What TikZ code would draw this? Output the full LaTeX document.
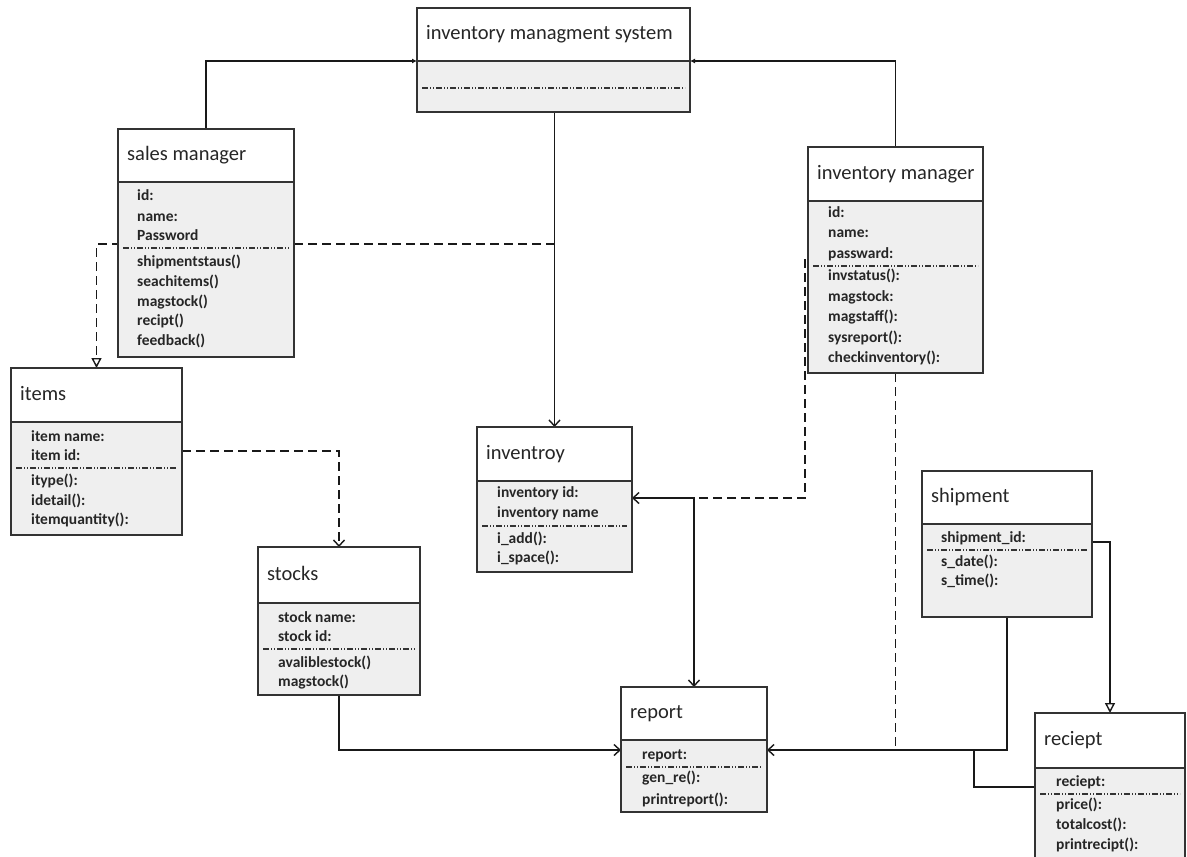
\documentclass[tikz,border=0pt]{standalone}
\usepackage{fontspec}
\setmainfont{Carlito}
\usetikzlibrary{arrows.meta}
\pgfdeclarelayer{background}
\pgfsetlayers{background,main}
\definecolor{boxline}{HTML}{333333}
\definecolor{boxbody}{HTML}{EFEFEF}
\tikzset{
  hdr/.style={draw=boxline, fill=white, line width=2pt, anchor=north west, inner sep=0pt, outer sep=0pt},
  bdy/.style={hdr, fill=boxbody},
  ttl/.style={anchor=west, inner sep=0pt, font=\fontsize{20.5}{24}\selectfont, text=black!85, text height=14pt, text depth=4pt},
  row/.style={anchor=west, inner sep=0pt, font=\fontsize{15.5}{18}\selectfont\bfseries, text=black!85, text height=10pt, text depth=3pt},
  sepline/.style={draw=boxline, line width=1.2pt, dash pattern=on 6pt off 2pt on 1pt off 2pt on 1pt off 2pt},
  conn/.style={draw=black!90, line width=1.8pt},
  dep/.style={conn, dash pattern=on 9pt off 5pt},
  opentip/.tip={Straight Barb[length=6pt,width=11pt,line width=1.4pt]},
  gentip/.tip={Triangle[open,length=10pt,width=10pt,line width=1.4pt,fill=white]},
  blobtip/.tip={Latex[length=5pt,width=5pt]},
}
% class box: name, left, top, right, divider, bottom, title
\newcommand\umlbox[7]{%
  \node[hdr, minimum width={#4pt-#2pt}, minimum height={#5pt-#3pt}] (#1) at (#2,#3) {};
  \node[ttl] (#1-t) at ({#2+9},{(#3+#5)/2}) {#7};
  \node[bdy, minimum width={#4pt-#2pt}, minimum height={#6pt-#5pt}] (#1-b) at (#2,#5) {};
}
% one attribute/operation line: name, x, y, text
\newcommand\mrow[4]{\node[row] (#1) at (#2,#3) {#4};}
% dotted compartment separator: left, right, y
\newcommand\msep[3]{\draw[sepline] ({#1+5},#3) -- ({#2-5},#3);}

\begin{document}
\begin{tikzpicture}[x=1pt,y=-1pt]
\useasboundingbox (0,0) rectangle (1187,857);

% inventory managment system
\umlbox{sys}{417}{8}{690}{61}{112}{inventory managment system}
\msep{417}{690}{88}

% sales manager
\umlbox{sm}{118}{129}{294}{182}{357}{sales manager}
\mrow{sm-1}{137}{197}{id:}
\mrow{sm-2}{137}{218}{name:}
\mrow{sm-3}{137}{237}{Password}
\msep{118}{294}{248}
\mrow{sm-4}{137}{263}{shipmentstaus()}
\mrow{sm-5}{137}{283}{seachitems()}
\mrow{sm-6}{137}{303}{magstock()}
\mrow{sm-7}{137}{322}{recipt()}
\mrow{sm-8}{137}{342}{feedback()}

% inventory manager
\umlbox{im}{808}{147}{983}{201}{373}{inventory manager}
\mrow{im-1}{828}{214}{id:}
\mrow{im-2}{828}{234}{name:}
\mrow{im-3}{828}{255}{passward:}
\msep{808}{983}{266}
\mrow{im-4}{828}{277}{invstatus():}
\mrow{im-5}{828}{298}{magstock:}
\mrow{im-6}{828}{318}{magstaff():}
\mrow{im-7}{828}{339}{sysreport():}
\mrow{im-8}{828}{359}{checkinventory():}

% items
\umlbox{it}{11}{368}{182}{422}{535}{items}
\mrow{it-1}{31}{438}{item name:}
\mrow{it-2}{31}{457}{item id:}
\msep{11}{182}{468}
\mrow{it-3}{31}{482}{itype():}
\mrow{it-4}{31}{502}{idetail():}
\mrow{it-5}{31}{521}{itemquantity():}

% stocks
\umlbox{st}{258}{547}{420}{603}{695}{stocks}
\mrow{st-1}{278}{619}{stock name:}
\mrow{st-2}{278}{638}{stock id:}
\msep{258}{420}{649}
\mrow{st-3}{278}{664}{avaliblestock()}
\mrow{st-4}{278}{683}{magstock()}

% inventroy
\umlbox{inv}{477}{427}{632}{481}{572}{inventroy}
\mrow{inv-1}{497}{494}{inventory id:}
\mrow{inv-2}{497}{514}{inventory name}
\msep{477}{632}{526}
\mrow{inv-3}{497}{540}{i\_add():}
\mrow{inv-4}{497}{559}{i\_space():}

% shipment
\umlbox{sh}{922}{471}{1092}{524}{617}{shipment}
\mrow{sh-1}{941}{539}{shipment\_id:}
\msep{922}{1092}{550}
\mrow{sh-2}{941}{563}{s\_date():}
\mrow{sh-3}{941}{582}{s\_time():}

% report
\umlbox{rp}{621}{687}{767}{740}{812}{report}
\mrow{rp-1}{642}{756}{report:}
\msep{621}{767}{767}
\mrow{rp-2}{642}{779}{gen\_re():}
\mrow{rp-3}{642}{801}{printreport():}

% reciept
\umlbox{rc}{1035}{713}{1185}{768}{862}{reciept}
\mrow{rc-1}{1056}{783}{reciept:}
\msep{1035}{1185}{794}
\mrow{rc-2}{1056}{806}{price():}
\mrow{rc-3}{1056}{826}{totalcost():}
\mrow{rc-4}{1056}{846}{printrecipt():}

% connectors, kept behind the boxes
\begin{pgfonlayer}{background}
\fill[white] (0,0) rectangle (1187,857);
\draw[conn,-blobtip] (sm.north) |- (sys.south west);
\draw[conn,-blobtip] (im.north) |- (sys.south east);
\draw[conn,-opentip] (sys-b.south -| inv.north) -- (inv.north);
\coordinate (j1) at (554.5,244);
\draw[dep,-gentip] (j1) -| (it.north);
\draw[dep,-opentip] ([yshift=-29pt]it-b.north east) -| (st.north);
\draw[conn,-opentip] (st-b.south) |- ([yshift=-10pt]rp-b.north west);
\draw[conn,opentip-opentip] ([yshift=-17pt]inv-b.north east) -| (rp.north);
\coordinate (j2) at (694,498);
\draw[dep] ([xshift=-3pt,yshift=-58pt]im-b.north west) |- (j2);
\coordinate (j3) at (974,750);
\draw[dep] (im-b.south) -- (im-b.south |- j3);
\draw[conn,-opentip] (sh-b.south) |- ([yshift=-10pt]rp-b.north east);
\draw[conn] (j3) |- ([yshift=-19pt]rc-b.north west);
\draw[conn,-gentip] ([yshift=-18pt]sh-b.north east) -| (rc.north);
\end{pgfonlayer}
\end{tikzpicture}
\end{document}
